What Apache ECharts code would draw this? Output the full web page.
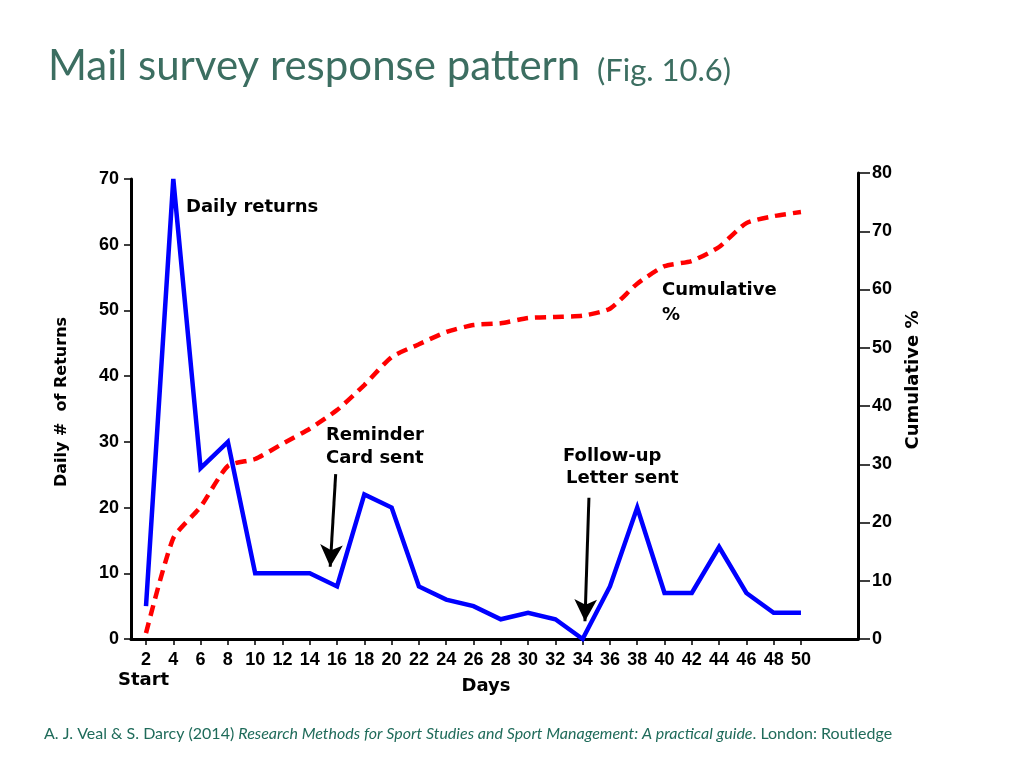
<!DOCTYPE html>
<html><head><meta charset="utf-8">
<script src="https://cdn.jsdelivr.net/npm/echarts@6/dist/echarts.min.js"></script>
<style>html,body{margin:0;padding:0;background:#fff}#c{width:1024px;height:768px}</style>
</head><body><div id="c"></div>
<script>
// ---- data ----
const days = [2,4,6,8,10,12,14,16,18,20,22,24,26,28,30,32,34,36,38,40,42,44,46,48,50];
const dailyReturns = [5,70,26,30,10,10,10,8,22,20,8,6,5,3,4,3,0,8,20,7,7,14,7,4,4];
const cumulativePct = [1,17.3,22.7,29.7,30.9,33.5,36.1,39.3,43.6,48.4,50.6,52.7,53.9,54.2,55.1,55.3,55.5,56.7,61,64,64.9,67.3,71.4,72.6,73.3];
const leftTicks = [0,10,20,30,40,50,60,70];
const rightTicks = [0,10,20,30,40,50,60,70,80];
// annotation arrows in data units [day, value]
const reminderArrow = [[15.9,25.1],[15.5,11.0]];
const followUpArrow = [[34.46,21.5],[34.17,2.7]];

const chart = echarts.init(document.getElementById('c'), null, {renderer:'canvas'});
const tickFont = {fontFamily:'Liberation Sans', fontWeight:'bold', fontSize:18, color:'#000'};
const annFont = 'bold 18px "DejaVu Sans"';
const xMin = 0.9, xMax = 54.18;

function ann(text, x, y, extra){
  return Object.assign({type:'text', x:x, y:y, style:{text:text, font:annFont, fill:'#000', align:'left', verticalAlign:'middle'}}, extra||{});
}

const option = {
  animation:false,
  backgroundColor:'#fff',
  grid:[
    {left:131, right:166, top:179, bottom:129},
    {left:131, right:166, top:173, bottom:129}
  ],
  xAxis:[
    {gridIndex:0, type:'value', min:xMin, max:xMax,
     axisLine:{show:true, onZero:false, lineStyle:{color:'#000', width:3}},
     axisTick:{show:true, customValues:days, length:6, inside:false, lineStyle:{color:'#000', width:1.5}},
     axisLabel:Object.assign({customValues:days, margin:12}, tickFont),
     splitLine:{show:false}},
    {gridIndex:1, type:'value', min:xMin, max:xMax, show:false, splitLine:{show:false}}
  ],
  yAxis:[
    {gridIndex:0, type:'value', min:0, max:70, interval:10, position:'left',
     axisLine:{show:true, lineStyle:{color:'#000', width:3}},
     axisTick:{show:true, length:7, lineStyle:{color:'#000', width:1.5}},
     axisLabel:Object.assign({margin:12, formatter:function(v){return leftTicks.indexOf(v)>=0?String(v):'';}}, tickFont),
     splitLine:{show:false}},
    {gridIndex:1, type:'value', min:0, max:80, interval:10, position:'right',
     axisLine:{show:true, lineStyle:{color:'#000', width:3}},
     axisTick:{show:true, length:12, lineStyle:{color:'#000', width:1.5}},
     axisLabel:Object.assign({margin:14, formatter:function(v){return rightTicks.indexOf(v)>=0?String(v):'';}}, tickFont),
     splitLine:{show:false}}
  ],
  series:[
    {name:'Daily returns', type:'line', xAxisIndex:0, yAxisIndex:0,
     data:days.map((d,i)=>[d, dailyReturns[i]]),
     showSymbol:false, symbol:'none', clip:false,
     lineStyle:{color:'#0000ff', width:4.5, join:'miter'},
     markLine:{silent:true, symbol:['none','arrow'], symbolSize:[17,22], animation:false,
       lineStyle:{color:'#000', width:3, type:'solid'}, label:{show:false},
       itemStyle:{color:'#000'},
       data:[
         [{coord:reminderArrow[0]},{coord:reminderArrow[1]}],
         [{coord:followUpArrow[0]},{coord:followUpArrow[1]}]
       ]}
    },
    {name:'Cumulative %', type:'line', xAxisIndex:1, yAxisIndex:1,
     data:days.map((d,i)=>[d, cumulativePct[i]]),
     showSymbol:false, symbol:'none', clip:false, smooth:0.2,
     lineStyle:{color:'#ff0000', width:4.5, type:[11,7]}}
  ],
  graphic:[
    {type:'text', x:48, y:66, style:{text:'Mail survey response pattern', font:'42px Lato', fill:'#3c6e61', align:'left', verticalAlign:'middle'}},
    {type:'text', x:597, y:71, style:{text:'(Fig. 10.6)', font:'31px Lato', fill:'#3c6e61', align:'left', verticalAlign:'middle'}},
    ann('Daily returns', 186, 207),
    ann('Reminder', 326, 435),
    ann('Card sent', 326, 458),
    ann('Follow-up', 563, 456),
    ann('Letter sent', 566, 478),
    ann('Cumulative', 662, 290),
    ann('%', 662, 315),
    ann('Start', 118, 680),
    {type:'text', x:486, y:686, style:{text:'Days', font:annFont, fill:'#000', align:'center', verticalAlign:'middle'}},
    {type:'text', x:62, y:402, rotation:Math.PI/2, style:{text:'Daily #  of Returns', font:'bold 16px "DejaVu Sans"', fill:'#000', align:'center', verticalAlign:'middle'}},
    {type:'text', x:913, y:380, rotation:Math.PI/2, style:{text:'Cumulative %', font:'bold 18px "DejaVu Sans"', fill:'#000', align:'center', verticalAlign:'middle'}},
    {type:'text', x:44, y:734, style:{
      text:'{n|A. J. Veal & S. Darcy (2014) }{i|Research Methods for Sport Studies and Sport Management: A practical guide}{n|. London: Routledge}',
      align:'left', verticalAlign:'middle',
      rich:{
        n:{fontFamily:'Lato', fontSize:16, fill:'#1f6b5a'},
        i:{fontFamily:'Lato', fontSize:16, fontStyle:'italic', fill:'#1f6b5a'}
      }}}
  ]
};
chart.setOption(option);
</script>
</body></html>
